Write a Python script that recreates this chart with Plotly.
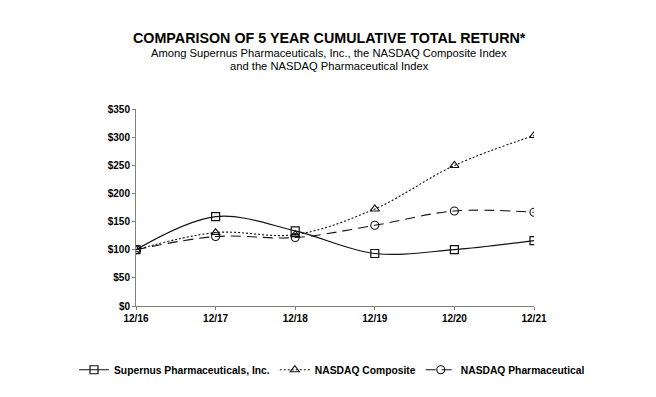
import plotly.graph_objects as go

periods = ["12/16", "12/17", "12/18", "12/19", "12/20", "12/21"]
supernus = [100, 158.8, 133.5, 93.3, 100.3, 116.3]
nasdaq_comp = [100, 130.5, 126.8, 172.4, 249.7, 302.8]
nasdaq_pharma = [100, 123.4, 121.6, 143.4, 168.8, 166.5]
y_ticks = [0, 50, 100, 150, 200, 250, 300, 350]
y_tick_labels = ["$0", "$50", "$100", "$150", "$200", "$250", "$300", "$350"]

FONT = "Liberation Sans, Arial, sans-serif"
x_idx = list(range(len(periods)))

fig = go.Figure()
fig.add_trace(go.Scatter(
    x=x_idx, y=supernus, name="<b>Supernus Pharmaceuticals, Inc.</b>",
    mode="lines+markers", line=dict(color="#111111", width=1.2, shape="spline", smoothing=1.0),
    marker=dict(symbol="square-open", size=8, color="#111111", line=dict(width=1.2)),
))
fig.add_trace(go.Scatter(
    x=x_idx, y=nasdaq_comp, name="<b>NASDAQ Composite</b>",
    mode="lines+markers", line=dict(color="#111111", width=1.1, dash="2px,2px", shape="spline", smoothing=1.0),
    marker=dict(symbol="triangle-up-open", size=8, color="#111111", line=dict(width=1.1)),
))
fig.add_trace(go.Scatter(
    x=x_idx, y=nasdaq_pharma, name="<b>NASDAQ Pharmaceutical</b>",
    mode="lines+markers", line=dict(color="#111111", width=1.1, dash="10px,6px", shape="spline", smoothing=1.0),
    marker=dict(symbol="circle-open", size=8, color="#111111", line=dict(width=1.1)),
))

# page is rendered with an 8px body margin, so margins are offset by 8px
fig.update_layout(
    width=656, height=397,
    margin=dict(l=128, r=130, t=101, b=99),
    paper_bgcolor="white", plot_bgcolor="white",
    font=dict(family=FONT, color="#000000"),
    showlegend=True,
    legend=dict(orientation="h", x=(74 - 136) / 398, xanchor="left", y=-0.25, yanchor="top",
                font=dict(size=10.3, family=FONT, color="#000"), itemwidth=30,
                tracegroupgap=0),
    xaxis=dict(
        range=[0, 5], tickmode="array", tickvals=x_idx, ticktext=periods,
        showgrid=False, zeroline=False, showline=True, linecolor="#808080", linewidth=1,
        ticks="outside", ticklen=3, tickcolor="#808080",
        tickfont=dict(size=10, family=FONT, color="#000", weight="bold"),
    ),
    yaxis=dict(
        range=[0, 350], tickmode="array", tickvals=y_ticks, ticktext=y_tick_labels,
        showgrid=False, zeroline=False, showline=True, linecolor="#808080", linewidth=1,
        ticks="outside", ticklen=3, tickcolor="#808080",
        tickfont=dict(size=10, family=FONT, color="#000", weight="bold"),
    ),
    annotations=[
        dict(text="<b>COMPARISON OF 5 YEAR CUMULATIVE TOTAL RETURN*</b>", xref="paper", yref="paper",
             x=(329 - 136) / 398, y=(306 - 38) / 197, xanchor="center", yanchor="middle",
             showarrow=False, font=dict(size=14.3, family=FONT, color="#000")),
        dict(text="Among Supernus Pharmaceuticals, Inc., the NASDAQ Composite Index", xref="paper", yref="paper",
             x=(329 - 136) / 398, y=(306 - 53) / 197, xanchor="center", yanchor="middle",
             showarrow=False, font=dict(size=11.2, family=FONT, color="#000")),
        dict(text="and the NASDAQ Pharmaceutical Index", xref="paper", yref="paper",
             x=(329 - 136) / 398, y=(306 - 66) / 197, xanchor="center", yanchor="middle",
             showarrow=False, font=dict(size=11.2, family=FONT, color="#000")),
    ],
)

fig.write_html("out.html")
